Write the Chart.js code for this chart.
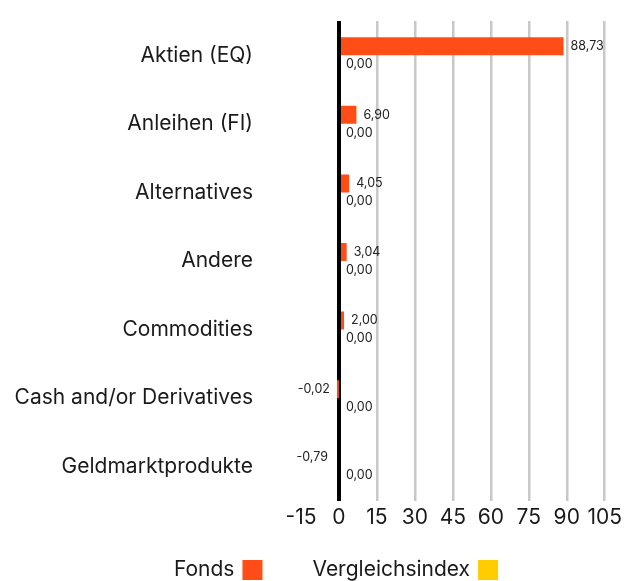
<!DOCTYPE html>
<html>
<head>
<meta charset="utf-8">
<script src="https://cdn.jsdelivr.net/npm/chart.js@4.4.0/dist/chart.umd.min.js"></script>
<style>
  body { margin: 0; background: #fff; }
</style>
</head>
<body>
<canvas id="chart" width="626" height="581"></canvas>
<script>
const categories = ['Aktien (EQ)', 'Anleihen (FI)', 'Alternatives', 'Andere', 'Commodities', 'Cash and/or Derivatives', 'Geldmarktprodukte']
const fondsValues = [88.73, 6.90, 4.05, 3.04, 2.00, -0.02, -0.79]
const indexValues = [0, 0, 0, 0, 0, 0, 0]
const xTicks = [-15, 0, 15, 30, 45, 60, 75, 90, 105]

const FONT = 'Inter, "DejaVu Sans", sans-serif'

// draws the value next to the end of each bar
const barLabels = {
    id: 'barLabels',
    afterDatasetsDraw(chart) {
        const ctx = chart.ctx
        ctx.save()
        ctx.font = '12.5px ' + FONT
        ctx.fillStyle = '#222'
        ctx.textBaseline = 'middle'
        chart.data.datasets.forEach((ds, i) => {
            chart.getDatasetMeta(i).data.forEach((bar, j) => {
                let v = ds.data[j]
                let txt = v.toFixed(2).replace('.', ',')
                if (v < 0) {
                    ctx.textAlign = 'right'
                    ctx.fillText(txt, bar.x - 9, bar.y)
                } else {
                    ctx.textAlign = 'left'
                    ctx.fillText(txt, bar.x + 7, bar.y)
                }
            })
        })
        ctx.restore()
    }
}

// legend with the swatch on the right of the text
const boxLegend = {
    id: 'boxLegend',
    afterDraw(chart) {
        const ctx = chart.ctx
        ctx.save()
        ctx.font = '21px ' + FONT
        ctx.textBaseline = 'middle'
        ctx.textAlign = 'left'
        let items = chart.data.datasets.map(ds => ({ text: ds.label, color: ds.backgroundColor }))
        let gap = 50, box = 20, space = 8
        let total = 0
        items.forEach((it, i) => {
            it.w = ctx.measureText(it.text).width
            total += it.w + space + box + (i > 0 ? gap : 0)
        })
        let x = chart.width / 2 + 23 - total / 2
        let y = 570
        items.forEach(it => {
            ctx.fillStyle = '#1a1a1a'
            ctx.fillText(it.text, x, y)
            x += it.w + space
            ctx.fillStyle = it.color
            ctx.fillRect(x, y - box / 2, box, box)
            x += box + gap
        })
        ctx.restore()
    }
}

let ctx = document.getElementById('chart').getContext('2d')
let chart = new Chart(ctx, {
    type: 'bar',
    data: {
        labels: categories,
        datasets: [{
            label: 'Fonds',
            data: fondsValues,
            backgroundColor: '#ff4d17',
            barThickness: 18,
            inflateAmount: 0
        }, {
            label: 'Vergleichsindex',
            data: indexValues,
            backgroundColor: '#ffcc00',
            barThickness: 18,
            inflateAmount: 0
        }]
    },
    options: {
        indexAxis: 'y',
        responsive: false,
        animation: false,
        layout: {
            padding: { top: 21, right: 21, bottom: 50, left: 0 }
        },
        plugins: {
            legend: { display: false },
            tooltip: { enabled: false }
        },
        scales: {
            x: {
                min: -15,
                max: 105,
                afterBuildTicks: (scale) => {
                    scale.ticks = xTicks.map(v => ({ value: v }))
                },
                afterFit: (scale) => { scale.height = 30 },
                border: { display: false },
                grid: {
                    drawTicks: false,
                    color: (c) => c.tick.value === 0 ? '#000' : (c.tick.value === -15 ? 'rgba(0,0,0,0)' : '#c8c8c8'),
                    lineWidth: (c) => c.tick.value === 0 ? 4 : 2.5
                },
                ticks: {
                    padding: 4,
                    color: '#1a1a1a',
                    font: { family: FONT, size: 21 },
                    maxRotation: 0,
                    autoSkip: false
                }
            },
            y: {
                afterFit: (scale) => {
                    scale.width = 301
                    scale.paddingTop = 0
                    scale.paddingBottom = 0
                },
                border: { display: false },
                grid: { display: false, drawTicks: false },
                ticks: {
                    padding: 48,
                    color: '#1a1a1a',
                    font: { family: FONT, size: 21 }
                }
            }
        }
    },
    plugins: [barLabels, boxLegend]
})
</script>
</body>
</html>
